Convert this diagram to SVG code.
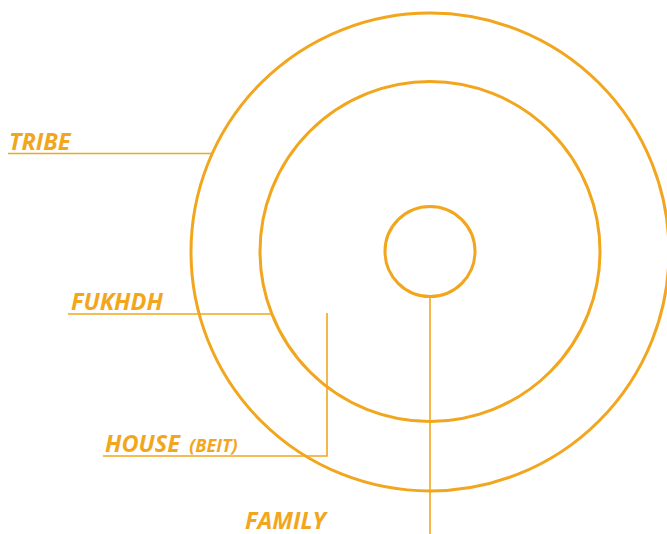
<svg xmlns="http://www.w3.org/2000/svg" width="667" height="534" viewBox="0 0 667 534">
<style>
.ring{fill:none;stroke:#F2A61E;stroke-width:3}
.ln{fill:none;stroke:#F2A61E;stroke-width:1.6}
.lbl{font-family:"Open Sans","Liberation Sans",sans-serif;font-weight:bold;font-style:italic;font-size:23.5px;fill:#F2A61E}
.sm{font-size:18px}
</style>
<rect width="667" height="534" fill="#ffffff"/>
<g id="tribe"><circle class="ring" cx="430" cy="252" r="239"/></g>
<g id="fukhdh"><circle class="ring" cx="430" cy="251.5" r="170"/></g>
<g id="family"><circle class="ring" cx="430" cy="251.5" r="45"/></g>
<g id="connectors">
<line class="ln" x1="8" y1="153.5" x2="212" y2="153.5"/>
<line class="ln" x1="68" y1="314" x2="271" y2="314"/>
<polyline class="ln" points="103,456 327,456 327,313"/>
<line class="ln" x1="430" y1="296" x2="430" y2="534"/>
</g>
<g id="labels">
<text class="lbl" x="9" y="149.5">TRIBE</text>
<text class="lbl" x="71" y="310">FUKHDH</text>
<text class="lbl" x="105" y="452">HOUSE <tspan class="sm" dx="3">(BEIT)</tspan></text>
<text class="lbl" x="245" y="528.5">FAMILY</text>
</g>
</svg>
